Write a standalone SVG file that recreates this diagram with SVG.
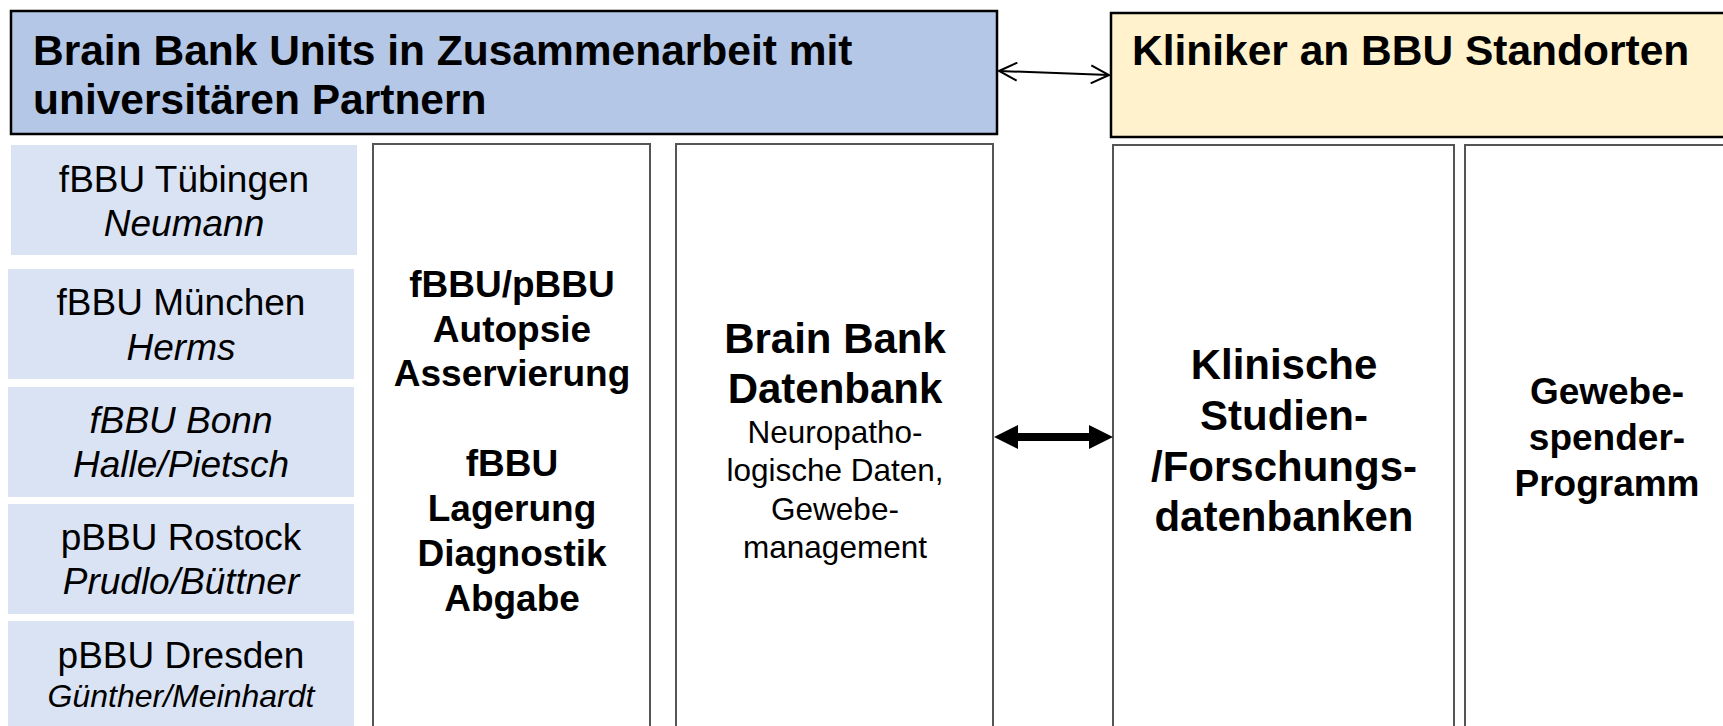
<svg xmlns="http://www.w3.org/2000/svg" width="1723" height="726" viewBox="0 0 1723 726">
  <style>
    text { font-family: "Liberation Sans", Arial, sans-serif; fill: #000; }
    .hdr { font-size: 42.5px; font-weight: bold; }
    .unit { fill: #DAE3F3; }
    .u { font-size: 37px; text-anchor: middle; }
    .it { font-style: italic; }
    .col { fill: #FFFFFF; stroke: #555555; stroke-width: 2; }
    .b37 { font-size: 37px; font-weight: bold; text-anchor: middle; }
    .b42 { font-size: 42px; font-weight: bold; text-anchor: middle; }
    .r32 { font-size: 31.5px; text-anchor: middle; }
  </style>
  <defs>
    <marker id="open" viewBox="0 0 20 20" refX="19" refY="10" markerWidth="20" markerHeight="20" markerUnits="userSpaceOnUse" orient="auto-start-reverse">
      <path d="M1,1 L19,10 L1,19" fill="none" stroke="#000" stroke-width="2"/>
    </marker>
  </defs>

  <g id="header-bbu">
    <rect x="11" y="11" width="986" height="123" fill="#B4C7E7" stroke="#000" stroke-width="2.5"/>
    <text class="hdr" x="33" y="65">Brain Bank Units in Zusammenarbeit mit</text>
    <text class="hdr" x="33" y="114">universitären Partnern</text>
  </g>

  <g id="header-kliniker">
    <rect x="1111" y="13" width="640" height="124" fill="#FFF2CC" stroke="#000" stroke-width="2.5"/>
    <text class="hdr" x="1132" y="65">Kliniker an BBU Standorten</text>
  </g>

  <g id="unit-tuebingen">
    <rect class="unit" x="11" y="145" width="346" height="110"/>
    <text class="u" x="184" y="192">fBBU Tübingen</text>
    <text class="u it" x="184" y="236">Neumann</text>
  </g>
  <g id="unit-muenchen">
    <rect class="unit" x="8" y="269" width="346" height="110"/>
    <text class="u" x="181" y="315">fBBU München</text>
    <text class="u it" x="181" y="360">Herms</text>
  </g>
  <g id="unit-bonn">
    <rect class="unit" x="8" y="387" width="346" height="110"/>
    <text class="u it" x="181" y="433">fBBU Bonn</text>
    <text class="u it" x="181" y="477">Halle/Pietsch</text>
  </g>
  <g id="unit-rostock">
    <rect class="unit" x="8" y="504" width="346" height="110"/>
    <text class="u" x="181" y="550">pBBU Rostock</text>
    <text class="u it" x="181" y="594">Prudlo/Büttner</text>
  </g>
  <g id="unit-dresden">
    <rect class="unit" x="8" y="621" width="346" height="110"/>
    <text class="u" x="181" y="668">pBBU Dresden</text>
    <text class="u it" x="181" y="707" style="font-size:32px">Günther/Meinhardt</text>
  </g>

  <g id="col-autopsie">
    <rect class="col" x="373" y="144" width="277" height="600"/>
    <text class="b37" x="512" y="297">fBBU/pBBU</text>
    <text class="b37" x="512" y="342">Autopsie</text>
    <text class="b37" x="512" y="386">Asservierung</text>
    <text class="b37" x="512" y="476">fBBU</text>
    <text class="b37" x="512" y="521">Lagerung</text>
    <text class="b37" x="512" y="566">Diagnostik</text>
    <text class="b37" x="512" y="611">Abgabe</text>
  </g>

  <g id="col-datenbank">
    <rect class="col" x="676" y="144" width="317" height="600"/>
    <text class="b42" x="835" y="353">Brain Bank</text>
    <text class="b42" x="835" y="403">Datenbank</text>
    <text class="r32" x="835" y="443">Neuropatho-</text>
    <text class="r32" x="835" y="481">logische Daten,</text>
    <text class="r32" x="835" y="520">Gewebe-</text>
    <text class="r32" x="835" y="558">management</text>
  </g>

  <g id="col-klinische">
    <rect class="col" x="1113" y="145" width="341" height="600"/>
    <text class="b42" x="1284" y="379">Klinische</text>
    <text class="b42" x="1284" y="430">Studien-</text>
    <text class="b42" x="1284" y="481">/Forschungs-</text>
    <text class="b42" x="1284" y="531">datenbanken</text>
  </g>

  <g id="col-gewebespender">
    <rect class="col" x="1465" y="145" width="300" height="600"/>
    <text class="b37" x="1607" y="404">Gewebe-</text>
    <text class="b37" x="1607" y="450">spender-</text>
    <text class="b37" x="1607" y="496">Programm</text>
  </g>

  <g id="connectors">
    <line x1="999" y1="71" x2="1109" y2="75" stroke="#000" stroke-width="2" marker-start="url(#open)" marker-end="url(#open)"/>
    <path d="M994,437 L1018,425 L1018,433 L1089,433 L1089,425 L1113,437 L1089,449 L1089,441 L1018,441 L1018,449 Z" fill="#000"/>
  </g>
</svg>
